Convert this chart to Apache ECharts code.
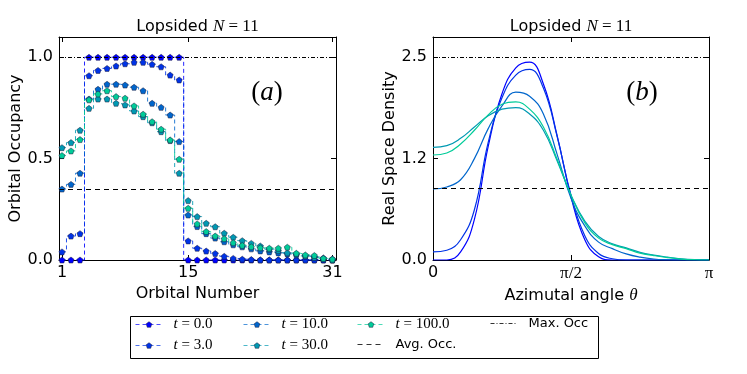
<!DOCTYPE html>
<html><head><meta charset="utf-8">
<script src="https://cdn.jsdelivr.net/npm/echarts@6/dist/echarts.min.js"></script>
<style>html,body{margin:0;padding:0;background:#fff}#c{width:747px;height:374px}</style>
</head><body><div id="c"></div>
<script>
// ---------------- data ----------------
const orbitals = [1,2,3,4,5,6,7,8,9,10,11,12,13,14,15,16,17,18,19,20,21,22,23,24,25,26,27,28,29,30,31];
const occT0   = [0,0,0, 1,1,1,1,1,1,1,1,1,1,1, 0,0,0,0,0,0,0,0,0,0,0,0,0,0,0,0,0];
const occT3   = [0.04,0.118,0.13, 0.909,0.935,0.945,0.957,0.968,0.975,0.975,0.965,0.953,0.912,0.888,
                 0.094,0.058,0.044,0.032,0.018,0.008,0.004,0.002,0,0,0,0,0,0,0,0,0];
const occT10  = [0.35,0.373,0.428, 0.794,0.842,0.867,0.867,0.863,0.852,0.835,0.773,0.753,0.715,0.584,
                 0.222,0.165,0.13,0.108,0.09,0.075,0.065,0.055,0.045,0.04,0.035,0.03,0.025,0.02,0.015,0.01,0.005];
const occT30  = [0.554,0.579,0.64, 0.748,0.794,0.794,0.773,0.765,0.735,0.707,0.677,0.633,0.589,0.428,
                 0.293,0.214,0.181,0.164,0.132,0.112,0.095,0.082,0.069,0.053,0.046,0.035,0.03,0.02,0.012,0.005,0];
const occT100 = [0.515,0.538,0.594, 0.79,0.819,0.835,0.806,0.798,0.76,0.719,0.682,0.645,0.592,0.497,
                 0.255,0.178,0.14,0.118,0.105,0.085,0.072,0.065,0.06,0.058,0.058,0.063,0.033,0.025,0.022,0.008,0.004];

const thetaFrac = [0,0.05,0.1,0.15,0.2,0.25,0.3,0.35,0.4,0.45,0.5,0.55,0.6,0.65,0.7,0.75,0.8,0.85,0.9,0.95,1];
const densT0   = [0,0,0.10,0.50,1.40,2.05,2.37,2.44,2.17,1.53,0.78,0.25,0.04,0,0,0,0,0,0,0,0];
const densT3   = [0.10,0.12,0.25,0.62,1.45,2.00,2.28,2.35,2.12,1.52,0.80,0.30,0.08,0.015,0,0,0,0,0,0,0];
const densT10  = [0.876,0.90,0.99,1.25,1.62,1.90,2.07,2.02,1.80,1.30,0.76,0.42,0.22,0.14,0.075,0.035,0.012,0.003,0,0,0];
const densT30  = [1.39,1.41,1.50,1.64,1.78,1.86,1.88,1.80,1.60,1.22,0.80,0.48,0.29,0.20,0.15,0.095,0.06,0.035,0.015,0.004,0];
const densT100 = [1.295,1.32,1.43,1.60,1.79,1.92,1.95,1.86,1.64,1.24,0.80,0.46,0.27,0.19,0.14,0.085,0.055,0.03,0.012,0.003,0];

const seriesNames = ['t = 0.0','t = 3.0','t = 10.0','t = 30.0','t = 100.0'];
const maxName = 'Max. Occ', avgName = 'Avg. Occ.';
const maxOcc = 1.0, avgOcc = 0.355, maxDens = 2.5, avgDens = 0.887;

const xTicksA = [1,15,31], xTickLabelsA = ['1','15','31'];
const yTicksA = [0,0.5,1.0], yTickLabelsA = ['0.0','0.5','1.0'];
const xTicksB = [0, Math.PI/2, Math.PI], xTickLabelsB = ['0','π/2','π'];
const yTicksB = [0,1.25,2.5], yTickLabelsB = ['0.0','1.2','2.5'];

// ---------------- styling ----------------
const occ = [occT0, occT3, occT10, occT30, occT100];
const dens = [densT0, densT3, densT10, densT30, densT100];
const colors = ['#0000ff','#0033e6','#0066cc','#0099b2','#00cc99'];
const sans = 'DejaVu Sans', serif = 'Liberation Serif';
const pentagon = 'path://M0,-1L0.951,-0.309L0.588,0.809L-0.588,0.809L-0.951,-0.309Z';
const dashDot = [4,2,1,2];

function labelFor(ticks, labels){
  return v => { for (let i=0;i<ticks.length;i++) if (Math.abs(ticks[i]-v)<1e-9) return labels[i]; return ''; };
}
function axis(kind, gridIndex, position, min, max, ticks, labels, show, name, nameGap, rich){
  const fmt = labelFor(ticks, labels);
  const a = {
    type:'value', gridIndex, position, min, max,
    axisLine:{show:true, onZero:false, lineStyle:{color:'#000', width:1}},
    axisTick:{show:true, inside:true, length:5, customValues:ticks, lineStyle:{color:'#000', width:1}},
    axisLabel:{show:show, customValues:ticks, color:'#000', fontSize:16, fontFamily:sans,
      margin: kind==='x'?5:6,
      formatter: rich ? (v => { const s = fmt(v); return s==='0' ? s : '{m|'+s+'}'; }) : fmt,
      rich: rich || undefined},
    splitLine:{show:false}
  };
  if (name) {
    a.name = name; a.nameLocation = 'middle'; a.nameGap = nameGap;
    a.nameTextStyle = {color:'#000', fontSize:16, fontFamily:sans,
      rich:{t:{fontFamily:serif, fontStyle:'italic', fontSize:17, color:'#000'}}};
  }
  return a;
}

const gridA = {left:59, top:37, width:277, height:223};
const gridB = {left:433, top:37, width:276, height:223};
const minA = 0.67, maxA = 31.4;

const xAxis = [
  axis('x',0,'bottom',minA,maxA,xTicksA,xTickLabelsA,true,'Orbital Number',24),
  axis('x',0,'top',minA,maxA,xTicksA,xTickLabelsA,false),
  axis('x',1,'bottom',0,Math.PI,xTicksB,xTickLabelsB,true,'Azimutal angle {t|θ}',24,{m:{fontFamily:serif,fontSize:17,color:'#000'}}),
  axis('x',1,'top',0,Math.PI,xTicksB,xTickLabelsB,false)
];
const yAxis = [
  axis('y',0,'left',0,maxOcc*1.1,yTicksA,yTickLabelsA,true,'Orbital Occupancy',32),
  axis('y',0,'right',0,maxOcc*1.1,yTicksA,yTickLabelsA,false),
  axis('y',1,'left',0,maxDens*1.1,yTicksB,yTickLabelsB,true,'Real Space Density',32),
  axis('y',1,'right',0,maxDens*1.1,yTicksB,yTickLabelsB,false)
];

const series = [];
seriesNames.forEach((nm,i)=>{
  series.push({
    type:'line', name:nm, xAxisIndex:0, yAxisIndex:0, step:'middle', clip:false,
    data: orbitals.map((o,j)=>[o, occ[i][j]]),
    symbol:pentagon, symbolSize:6, showSymbol:true,
    itemStyle:{color:colors[i], borderColor:'#1a1a3a', borderWidth:0.5},
    lineStyle:{color:colors[i], width:1, type:[4,3], opacity:0.85},
    z:2+i
  });
});
seriesNames.forEach((nm,i)=>{
  series.push({
    type:'line', name:nm, xAxisIndex:2, yAxisIndex:2, smooth:0.45,
    data: thetaFrac.map((f,j)=>[f*Math.PI, dens[i][j]]),
    symbol:'none', showSymbol:false,
    lineStyle:{color:colors[i], width:1.2},
    itemStyle:{color:colors[i]},
    z:2+i
  });
});
function refLine(name, xi, yi, val, type){
  return {type:'line', name, xAxisIndex:xi, yAxisIndex:yi, data:[], symbol:'none',
    itemStyle:{color:'#000'},
    lineStyle:{color:'#000', width:1, type},
    markLine:{silent:true, symbol:['none','none'], label:{show:false},
      lineStyle:{color:'#000', width:1, type}, data:[{yAxis:val}]}};
}
series.push(refLine(maxName,0,0,maxOcc,dashDot));
series.push(refLine(avgName,0,0,avgOcc,[5,4]));
series.push(refLine(maxName,2,2,maxDens,dashDot));
series.push(refLine(avgName,2,2,avgDens,[5,4]));

// legends: column-major layout like the reference
const legendPos = [
  [seriesNames[0],135,325],[seriesNames[1],135,346],
  [seriesNames[2],243,325],[seriesNames[3],243,346],
  [seriesNames[4],357,325],[avgName,357,346],
  [maxName,490,325]
];
const legendFmt = nm => nm.startsWith('t = ') ? '{i|t}{n| = '+nm.slice(4)+'}' : nm;
const legend = legendPos.map(([nm,x,y])=>{
  const isRef = (nm===maxName || nm===avgName);
  return {
    data:[nm], left:x, top:y-8, padding:0, itemWidth:27, itemHeight:7, itemGap:0,
    selectedMode:false, formatter:legendFmt,
    lineStyle:{width:1, opacity: isRef?0.8:0.7},
    itemStyle: isRef ? {color:'rgba(0,0,0,0)', borderColor:'rgba(0,0,0,0)', borderWidth:0} : {borderWidth:0.5},
    textStyle:{color:'#000', fontSize:13, fontFamily:sans, padding:[0,0,0,6],
      rich:{i:{fontFamily:serif, fontStyle:'italic', fontSize:15, color:'#000'},
            n:{fontFamily:serif, fontSize:15, color:'#000'}}}
  };
});

const titleRich = {
  s:{fontFamily:sans, fontSize:16, fill:'#000'},
  i:{fontFamily:serif, fontStyle:'italic', fontSize:17, fill:'#000'},
  n:{fontFamily:serif, fontSize:17, fill:'#000'}
};
const annRich = {
  p:{fontFamily:serif, fontSize:27, fill:'#000'},
  i:{fontFamily:serif, fontStyle:'italic', fontSize:27, fill:'#000'}
};
const graphic = [
  {type:'text', x:197.5, y:27, style:{text:'{s|Lopsided }{i|N}{n| = 11}', rich:titleRich, textAlign:'center', textVerticalAlign:'middle'}},
  {type:'text', x:571, y:27, style:{text:'{s|Lopsided }{i|N}{n| = 11}', rich:titleRich, textAlign:'center', textVerticalAlign:'middle'}},
  {type:'text', x:267, y:93, style:{text:'{p|(}{i|a}{p|)}', rich:annRich, textAlign:'center', textVerticalAlign:'middle'}},
  {type:'text', x:642, y:93, style:{text:'{p|(}{i|b}{p|)}', rich:annRich, textAlign:'center', textVerticalAlign:'middle'}},
  {type:'rect', shape:{x:130.5, y:316.5, width:468, height:42}, style:{fill:'none', stroke:'#000', lineWidth:1}, z:-1}
];

const chart = echarts.init(document.getElementById('c'), null, {renderer:'canvas'});
chart.setOption({
  animation:false,
  backgroundColor:'#fff',
  textStyle:{fontFamily:sans},
  grid:[gridA, gridB],
  xAxis, yAxis, series, legend, graphic
});
</script></body></html>
